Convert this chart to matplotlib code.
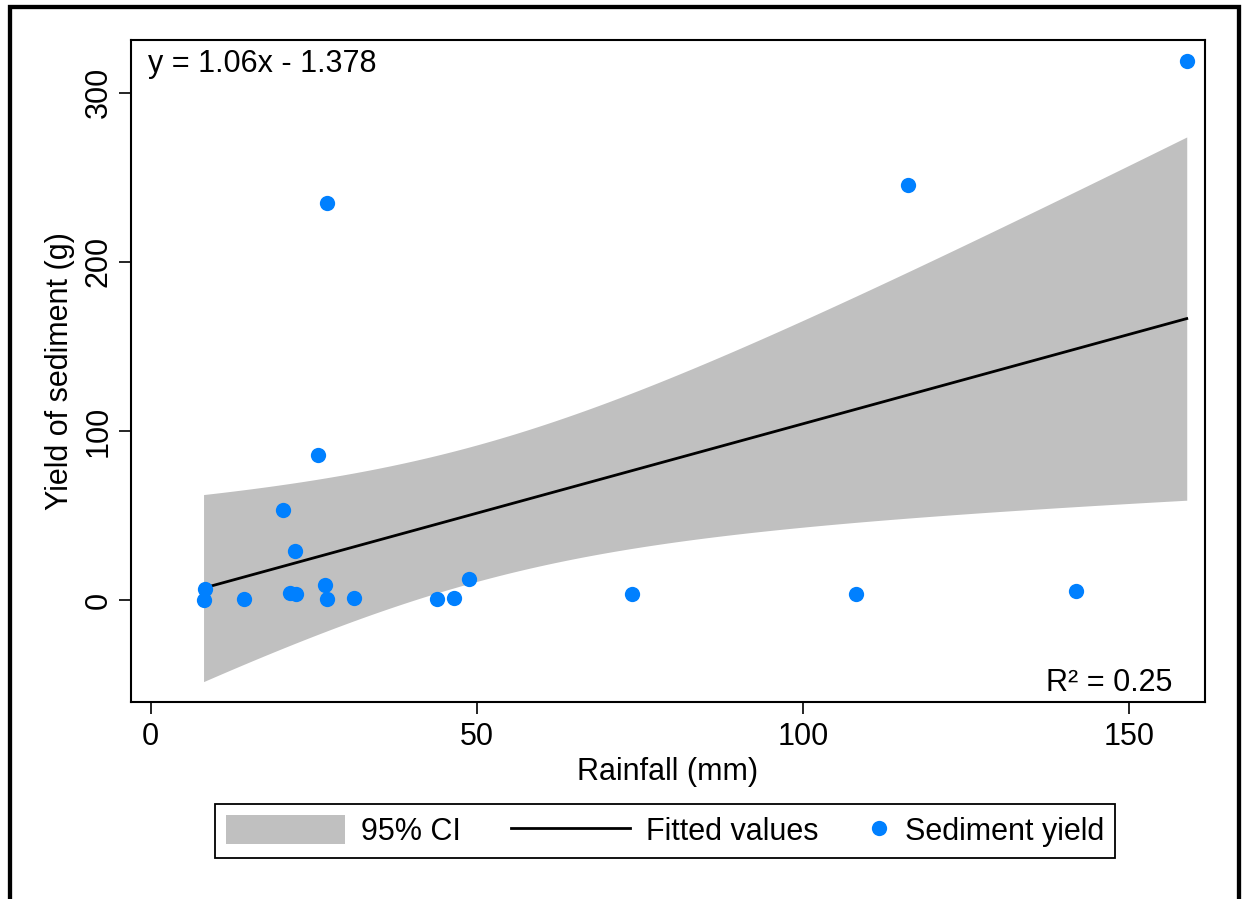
import numpy as np
import matplotlib
matplotlib.use("Agg")
import matplotlib.pyplot as plt
from matplotlib import patches
from matplotlib.legend_handler import HandlerLine2D

plt.rcParams['font.family'] = ['Liberation Sans', 'DejaVu Sans']

# rainfall (mm) and sediment yield (g)
rainfall = [8.1, 8.3, 14.3, 20.3, 22.1, 21.3, 22.3, 26.7, 27.0, 31.1,
            25.6, 27.0, 43.9, 46.5, 48.8, 73.8, 108.1, 116.0, 141.9, 158.8]
sediment = [0.0, 6.5, 0.6, 53.4, 28.8, 4.0, 3.4, 9.0, 0.6, 1.0,
            85.9, 234.6, 0.6, 1.0, 12.6, 3.5, 3.5, 245.7, 5.3, 319.0]
x_ticks = [0, 50, 100, 150]
y_ticks = [0, 100, 200, 300]
eq_label = "y = 1.06x - 1.378"
r2_label = "R\u00b2 = 0.25"
T_CRIT = 2.101  # t(0.975, 18 df)

FS = 22
BLUE = "#0080ff"
GRAY = "#c0c0c0"


class DotHandler(HandlerLine2D):
    """Legend dot with a narrow key box, like Stata's."""
    def legend_artist(self, legend, orig_handle, fontsize, handlebox):
        handlebox.width = 0.65 * fontsize
        return super().legend_artist(legend, orig_handle, fontsize, handlebox)


def fit_band(x, y):
    x = np.asarray(x)
    y = np.asarray(y)
    slope, icpt = np.polyfit(x, y, 1)
    n = len(x)
    resid = y - (slope * x + icpt)
    s = np.sqrt(np.sum(resid ** 2) / (n - 2))
    sxx = np.sum((x - x.mean()) ** 2)
    xs = np.linspace(x.min(), x.max(), 200)
    yhat = slope * xs + icpt
    half = T_CRIT * s * np.sqrt(1.0 / n + (xs - x.mean()) ** 2 / sxx)
    return xs, yhat, yhat - half, yhat + half


fig = plt.figure(figsize=(12.46, 8.99), dpi=100)
ax = fig.add_axes([131 / 1246, 1 - 702 / 899, 1074 / 1246, 662 / 899])

xs, yhat, lo, hi = fit_band(rainfall, sediment)
ci = ax.fill_between(xs, lo, hi, color=GRAY, lw=0, zorder=1, label="95% CI")
fit, = ax.plot(xs, yhat, color="black", lw=2.0, zorder=2, label="Fitted values")
pts, = ax.plot(rainfall, sediment, 'o', color=BLUE, ms=11, mec='none',
               zorder=3, label="Sediment yield")

ax.set_xlim(-3.02, 161.6)
ax.set_ylim(-60.3, 331.2)
ax.set_xticks(x_ticks)
ax.set_yticks(y_ticks)
for sp in ax.spines.values():
    sp.set_linewidth(1.5)
ax.tick_params(length=8.6, width=1.2, labelsize=FS, direction='out')
ax.tick_params(axis='x', pad=6)
ax.tick_params(axis='y', pad=4, labelrotation=90)
for lab in ax.get_yticklabels():
    lab.set_verticalalignment('center')

ax.set_xlabel("Rainfall (mm)", fontsize=FS, va='baseline')
ax.xaxis.set_label_coords(0.5, -(780 - 702) / 662)
ax.set_ylabel("Yield of sediment (g)", fontsize=FS, va='center')
ax.yaxis.set_label_coords(-(131 - 60) / 1074, 0.5)

ax.text(17 / 1074, 1 - 32 / 662, eq_label, transform=ax.transAxes,
        fontsize=FS, va='baseline', ha='left')
ax.text(1 - 33 / 1074, 11 / 662, r2_label, transform=ax.transAxes,
        fontsize=FS, va='baseline', ha='right')

leg = fig.legend([ci, fit, pts], ["95% CI", "Fitted values", "Sediment yield"],
                 loc='center', bbox_to_anchor=(665 / 1246, 1 - 831 / 899),
                 ncol=3, fontsize=FS, frameon=True, fancybox=False,
                 edgecolor='black', framealpha=1, borderpad=0.38,
                 handlelength=3.9, handleheight=1.05, handletextpad=0.52,
                 columnspacing=1.64, borderaxespad=0,
                 handler_map={pts: DotHandler(numpoints=1)})
leg.get_frame().set_linewidth(1.3)
for ln in leg.get_lines():
    ln.set_linewidth(2.0)

# outer frame round the whole graph, open at the bottom edge
fig.patches.append(patches.Rectangle((9.5 / 1246, -0.05), 1229.5 / 1246,
                                     1.05 - 7 / 899, transform=fig.transFigure,
                                     fill=False, edgecolor='black', lw=3.1))

fig.savefig("out.png", dpi=100)
